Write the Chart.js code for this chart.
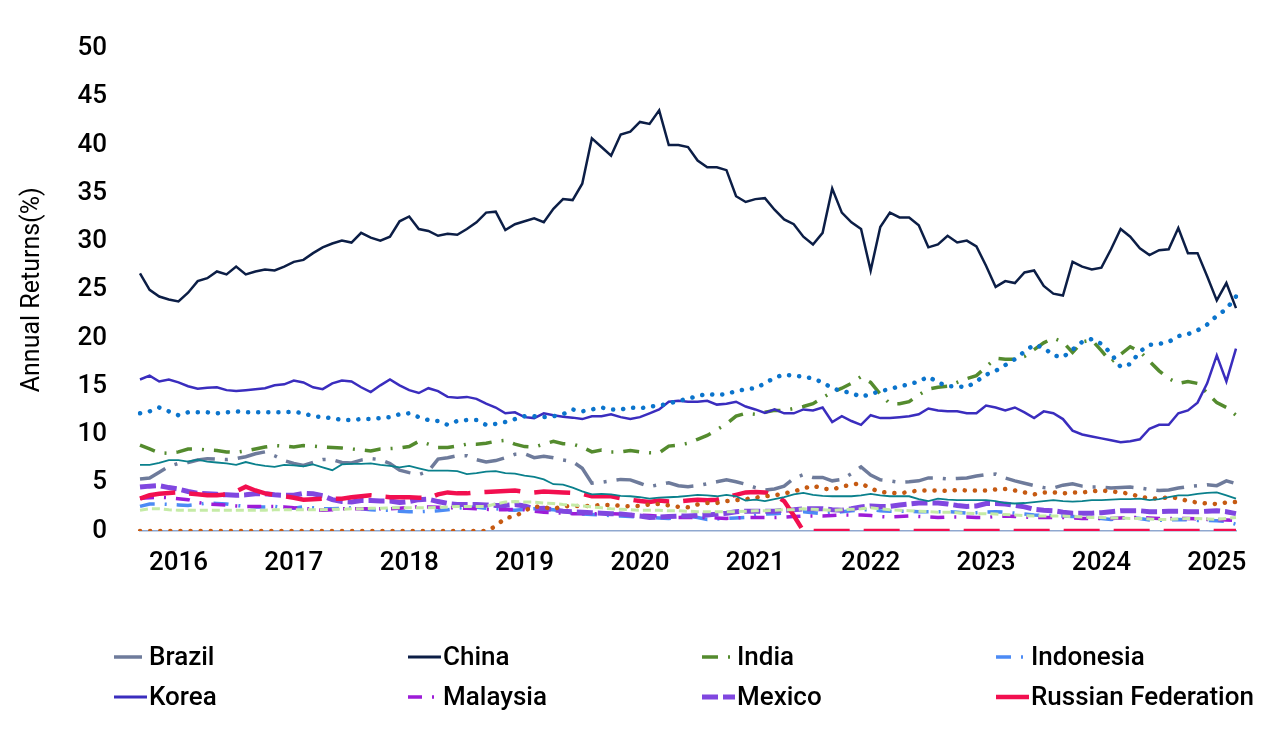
<!DOCTYPE html>
<html>
<head>
<meta charset="utf-8">
<script src="https://cdn.jsdelivr.net/npm/chart.js@4.4.1/dist/chart.umd.min.js"></script>
<style>
  html, body { margin: 0; padding: 0; background: #fff; }
  #chart { display: block; }
</style>
</head>
<body>
<canvas id="chart" width="1280" height="740"></canvas>
<script>
const FONT = "Roboto, 'Liberation Sans', Arial, sans-serif";

// monthly categories, Sep 2015 .. Mar 2025
const startYear = 2015, startMonth = 9, monthCount = 115;
const months = [];
for (let k = 0; k < monthCount; k++) {
  const t = startMonth - 1 + k;
  months.push((startYear + Math.floor(t / 12)) + '-' + String(t % 12 + 1).padStart(2, '0'));
}

const brazil = [
  5.4, 5.5, 6.1, 6.7, 7.0, 7.1, 7.35, 7.5, 7.45, 7.4,
  7.5, 7.7, 8.0, 8.2, 7.8, 7.3, 7.0, 6.8, 7.1, 7.4,
  7.4, 7.1, 7.05, 7.35, 7.5, 7.4, 7.0, 6.3, 6.05, 5.85,
  6.2, 7.45, 7.6, 7.8, 7.8, 7.4, 7.15, 7.3, 7.6, 7.95,
  8.0, 7.6, 7.75, 7.6, 7.35, 7.2, 6.5, 4.95, 5.05, 5.2,
  5.35, 5.3, 4.95, 4.6, 4.8, 5.0, 4.7, 4.6, 4.7, 4.9,
  5.1, 5.3, 5.1, 4.85, 4.5, 4.25, 4.35, 4.65, 5.45, 5.85,
  5.55, 5.55, 5.2, 5.35, 5.95, 6.65, 5.8, 5.3, 5.2, 5.05,
  5.1, 5.2, 5.5, 5.5, 5.4, 5.45, 5.5, 5.7, 5.85, 5.9,
  5.5, 5.2, 4.95, 4.7, 4.5, 4.45, 4.75, 4.9, 4.65, 4.55,
  4.55, 4.45, 4.5, 4.55, 4.45, 4.3, 4.2, 4.25, 4.45, 4.6,
  4.7, 4.8, 4.7, 5.2, 4.9
];
const china = [
  26.7, 25.0, 24.3, 24.0, 23.8, 24.7, 25.9, 26.2, 26.9, 26.6,
  27.4, 26.6, 26.9, 27.1, 27.0, 27.4, 27.9, 28.1, 28.8, 29.4,
  29.8, 30.1, 29.9, 30.9, 30.4, 30.1, 30.5, 32.1, 32.6, 31.3,
  31.1, 30.6, 30.8, 30.7, 31.3, 32.0, 33.0, 33.1, 31.2, 31.8,
  32.1, 32.4, 32.0, 33.4, 34.4, 34.3, 36.0, 40.7, 39.8, 38.9,
  41.1, 41.4, 42.4, 42.2, 43.6, 40.0, 40.0, 39.8, 38.4, 37.7,
  37.7, 37.4, 34.7, 34.1, 34.4, 34.5, 33.3, 32.3, 31.8, 30.5,
  29.7, 30.9, 35.5, 33.0, 32.0, 31.3, 27.0, 31.5, 33.0, 32.5,
  32.5, 31.7, 29.4, 29.7, 30.6, 29.9, 30.1, 29.5, 27.5, 25.3,
  25.9, 25.7, 26.8, 27.0, 25.4, 24.6, 24.4, 27.9, 27.4, 27.1,
  27.3, 29.2, 31.3, 30.5, 29.3, 28.6, 29.1, 29.2, 31.4, 28.8,
  28.8, 26.4, 23.9, 25.7, 23.1
];
const india = [
  8.9, 8.5, 8.1, 8.05, 8.2, 8.5, 8.5, 8.4, 8.35, 8.2,
  8.15, 8.3, 8.5, 8.7, 8.85, 8.8, 8.7, 8.85, 8.8, 8.7,
  8.65, 8.6, 8.5, 8.4, 8.3, 8.5, 8.55, 8.6, 8.75, 9.3,
  9.0, 8.65, 8.65, 8.8, 9.0, 9.0, 9.1, 9.3, 9.4, 9.0,
  8.75, 8.7, 9.0, 9.3, 9.05, 9.0, 8.7, 8.2, 8.4, 8.2,
  8.2, 8.35, 8.2, 8.1, 8.1, 8.8, 8.9, 9.1, 9.5, 9.9,
  10.5, 11.1, 11.9, 12.2, 12.1, 12.3, 12.5, 12.5, 12.7, 12.9,
  13.2, 13.8, 14.4, 14.8, 15.3, 16.0, 15.4, 14.2, 13.2, 13.2,
  13.4, 14.1, 14.7, 14.9, 15.0, 15.4, 15.8, 16.1, 17.0, 17.9,
  17.8, 17.8, 18.1, 18.8, 19.5, 20.0, 19.6, 18.5, 19.6, 19.8,
  18.7, 17.5, 18.3, 19.1, 18.6, 17.6, 16.6, 15.8, 15.3, 15.5,
  15.3, 14.3, 13.3, 12.8, 12.0
];
const indonesia = [
  2.55, 2.8, 2.8, 2.75, 2.7, 2.65, 2.75, 2.9, 2.85, 2.8,
  2.65, 2.55, 2.5, 2.5, 2.55, 2.4, 2.35, 2.5, 2.4, 2.3,
  2.3, 2.35, 2.4, 2.3, 2.2, 2.15, 2.15, 2.05, 2.0, 2.0,
  2.05, 2.1, 2.2, 2.35, 2.5, 2.45, 2.35, 2.3, 2.2, 2.15,
  2.25, 2.3, 2.25, 2.2, 2.05, 1.85, 1.75, 1.7, 1.65, 1.6,
  1.55, 1.5, 1.45, 1.4, 1.35, 1.3, 1.4, 1.55, 1.4, 1.2,
  1.25, 1.3, 1.35, 1.4, 1.6, 1.75, 1.8, 1.85, 1.9, 2.0,
  1.9, 1.8, 1.9, 2.0, 2.1, 2.2, 2.2, 2.1, 2.05, 2.05,
  2.05, 2.0, 2.0, 2.0, 2.0, 1.95, 1.85, 1.9, 1.95, 2.0,
  1.95, 1.85, 1.75, 1.65, 1.6, 1.6, 1.55, 1.5, 1.45, 1.4,
  1.3, 1.2, 1.3, 1.4, 1.3, 1.15, 1.1, 1.15, 1.2, 1.15,
  1.1, 1.1, 1.05, 1.0, 0.7
];
const korea = [
  15.7, 16.1, 15.5, 15.7, 15.4, 15.0, 14.75, 14.85, 14.9, 14.6,
  14.5, 14.6, 14.7, 14.8, 15.1, 15.2, 15.6, 15.4, 14.9, 14.7,
  15.3, 15.6, 15.5, 14.9, 14.4, 15.1, 15.7, 15.1, 14.6, 14.3,
  14.8, 14.5, 13.9, 13.8, 13.9, 13.7, 13.2, 12.8, 12.2, 12.3,
  11.8, 11.7, 12.2, 12.0, 11.85, 11.75, 11.6, 11.9, 11.9, 12.1,
  11.8, 11.6, 11.8, 12.2, 12.6, 13.4, 13.5, 13.4, 13.4, 13.5,
  13.1, 13.2, 13.4, 12.9, 12.6, 12.25, 12.6, 12.2, 12.2, 12.6,
  12.5, 12.8, 11.3, 11.9, 11.4, 11.0, 12.0, 11.7, 11.7, 11.8,
  11.9, 12.1, 12.7, 12.5, 12.4, 12.4, 12.2, 12.2, 13.0, 12.8,
  12.5, 12.8, 12.3, 11.7, 12.4, 12.2, 11.6, 10.4, 10.0, 9.8,
  9.6, 9.4, 9.2, 9.3, 9.5, 10.6, 11.0, 11.0, 12.2, 12.5,
  13.3, 15.3, 18.2, 15.5, 18.9
];
const malaysia = [
  3.4, 3.45, 3.5, 3.45, 3.35, 3.25, 2.95, 2.8, 2.75, 2.7,
  2.6, 2.55, 2.55, 2.55, 2.55, 2.5, 2.4, 2.35, 2.25, 2.15,
  2.2, 2.3, 2.3, 2.3, 2.3, 2.3, 2.3, 2.35, 2.45, 2.5,
  2.5, 2.45, 2.4, 2.4, 2.35, 2.3, 2.25, 2.2, 2.2, 2.25,
  2.2, 2.05, 1.95, 1.9, 1.85, 1.8, 1.8, 1.8, 1.8, 1.8,
  1.75, 1.7, 1.65, 1.6, 1.55, 1.5, 1.4, 1.4, 1.4, 1.4,
  1.35, 1.3, 1.35, 1.4, 1.4, 1.4, 1.4, 1.45, 1.5, 1.55,
  1.55, 1.55, 1.6, 1.65, 1.65, 1.65, 1.6, 1.5, 1.45, 1.5,
  1.55, 1.5, 1.45, 1.4, 1.45, 1.45, 1.45, 1.4, 1.4, 1.5,
  1.55, 1.5, 1.45, 1.4, 1.4, 1.4, 1.4, 1.35, 1.3, 1.3,
  1.3, 1.3, 1.35, 1.4, 1.4, 1.35, 1.3, 1.3, 1.3, 1.3,
  1.25, 1.2, 1.2, 1.15, 1.1
];
const mexico = [
  4.55, 4.65, 4.7, 4.5, 4.35, 4.1, 3.9, 3.85, 3.8, 3.75,
  3.7, 3.75, 3.85, 3.85, 3.75, 3.7, 3.7, 3.9, 3.85, 3.65,
  3.25, 3.05, 3.0, 3.15, 3.15, 3.1, 3.1, 2.95, 3.05, 3.25,
  3.3, 3.05, 2.85, 2.75, 2.75, 2.75, 2.7, 2.65, 2.65, 2.75,
  2.6, 2.3, 2.35, 2.2, 2.05, 2.0, 1.95, 1.9, 1.85, 1.8,
  1.75, 1.65, 1.55, 1.4, 1.45, 1.5, 1.55, 1.55, 1.6, 1.65,
  1.75, 1.85, 2.0, 2.05, 2.05, 2.05, 2.05, 2.15, 2.2, 2.3,
  2.3, 2.3, 2.2, 2.15, 2.3, 2.5, 2.6, 2.55, 2.55, 2.7,
  2.8, 2.9, 2.9, 2.9, 2.8, 2.65, 2.55, 2.6, 2.85, 2.85,
  2.8, 2.65, 2.5, 2.25, 2.15, 2.1, 1.95, 1.85, 1.85, 1.85,
  1.9, 2.0, 2.1, 2.1, 2.1, 2.0, 2.0, 2.05, 2.05, 2.0,
  2.0, 2.05, 2.1, 2.0, 1.8
];
const russia = [
  3.35, 3.7, 3.85, 3.95, 4.0, 3.9, 3.8, 3.7, 3.7, 3.8,
  4.1, 4.6, 4.2, 3.9, 3.75, 3.6, 3.45, 3.25, 3.3, 3.35,
  3.35, 3.35, 3.5, 3.6, 3.7, 3.6, 3.5, 3.5, 3.5, 3.45,
  3.4, 3.8, 4.0, 3.9, 3.9, 4.0, 4.05, 4.1, 4.15, 4.2,
  4.05, 4.0, 4.1, 4.05, 4.0, 3.95, 3.85, 3.6, 3.6, 3.6,
  3.4, 3.25, 3.1, 3.0, 3.15, 3.05, 3.05, 3.15, 3.25, 3.2,
  3.25, 3.5, 3.75, 4.0, 4.05, 4.0, 3.75, 3.1, 1.6, 0,
  0, 0, 0, 0, 0, 0, 0, 0, 0, 0,
  0, 0, 0, 0, 0, 0, 0, 0, 0, 0,
  0, 0, 0, 0, 0, 0, 0, 0, 0, 0,
  0, 0, 0, 0, 0, 0, 0, 0, 0, 0,
  0, 0, 0, 0, 0
];
// series drawn in the plot but not listed in the legend
const saudi = [
  0, 0, 0, 0, 0, 0, 0, 0, 0, 0,
  0, 0, 0, 0, 0, 0, 0, 0, 0, 0,
  0, 0, 0, 0, 0, 0, 0, 0, 0, 0,
  0, 0, 0, 0, 0, 0, 0, 0.5, 1.35, 1.5,
  2.1, 2.55, 2.45, 2.3, 2.55, 2.6, 2.6, 2.6, 2.7, 2.7,
  2.6, 2.55, 2.6, 2.75, 2.8, 2.65, 2.5, 2.45, 2.75, 2.9,
  2.9, 3.1, 3.2, 3.3, 3.45, 3.6, 3.7, 3.9, 4.1, 4.4,
  4.7, 4.4, 4.3, 4.6, 4.8, 4.95, 4.4, 4.05, 3.95, 3.9,
  4.05, 4.2, 4.2, 4.2, 4.15, 4.25, 4.2, 4.2, 4.2, 4.3,
  4.35, 4.2, 4.0, 3.8, 4.0, 4.0, 3.9, 4.0, 4.0, 4.1,
  4.2, 4.1, 4.0, 3.85, 3.55, 3.4, 3.35, 3.5, 3.4, 3.1,
  2.95, 2.85, 2.8, 2.95, 3.0
];
const southAfrica = [
  6.85, 6.85, 7.05, 7.35, 7.35, 7.2, 7.4, 7.2, 7.1, 7.0,
  6.85, 7.15, 6.9, 6.75, 6.65, 6.85, 6.8, 6.7, 6.9, 6.6,
  6.3, 6.9, 6.95, 6.95, 7.0, 6.85, 6.75, 6.6, 6.75, 6.5,
  6.25, 6.25, 6.25, 6.2, 5.9, 6.0, 6.15, 6.2, 6.0, 5.95,
  5.75, 5.6, 5.35, 4.85, 4.8, 4.5, 4.1, 3.8, 3.85, 3.8,
  3.65, 3.6, 3.5, 3.35, 3.45, 3.5, 3.55, 3.65, 3.75, 3.7,
  3.6, 3.75, 3.6, 3.15, 3.25, 3.1, 3.3, 3.5, 3.8, 3.95,
  3.75, 3.65, 3.6, 3.6, 3.6, 3.7, 3.85, 3.7, 3.6, 3.6,
  3.6, 3.3, 3.1, 3.35, 3.25, 3.2, 3.2, 3.2, 3.2, 3.1,
  2.9, 2.85, 2.9, 3.0, 3.1, 3.2, 3.1, 3.05, 3.1, 3.2,
  3.2, 3.25, 3.3, 3.3, 3.35, 3.2, 3.3, 3.5, 3.7, 3.7,
  3.85, 3.95, 4.0, 3.7, 3.35
];
const taiwan = [
  12.2, 12.4, 12.8, 12.4, 12.0, 12.3, 12.3, 12.3, 12.2, 12.3,
  12.4, 12.3, 12.3, 12.3, 12.3, 12.3, 12.35, 12.2, 11.9, 11.8,
  11.7, 11.5, 11.5, 11.6, 11.6, 11.7, 11.8, 12.1, 12.2, 11.8,
  11.5, 11.4, 11.0, 11.4, 11.5, 11.5, 11.0, 11.1, 11.3, 11.6,
  11.9, 11.9, 11.8, 11.9, 12.1, 12.6, 12.4, 12.6, 12.8, 12.6,
  12.6, 12.8, 12.7, 12.9, 13.0, 13.2, 13.5, 13.7, 14.0, 14.2,
  14.1, 14.2, 14.5, 14.7, 14.8, 15.3, 15.9, 16.2, 16.1, 16.0,
  15.8, 15.4, 14.8, 14.5, 14.3, 13.9, 14.2, 14.5, 14.7, 15.0,
  15.2, 15.5, 16.0, 15.4, 15.0, 15.0, 14.9, 15.5, 16.2, 16.6,
  17.2, 17.8, 18.6, 19.3, 19.0, 18.2, 18.0, 18.8, 19.6, 19.9,
  19.4, 18.4, 17.0, 17.3, 18.6, 19.3, 19.4, 19.6, 20.2, 20.4,
  20.8, 21.4, 22.3, 23.0, 24.3
];
const thailand = [
  2.15, 2.3, 2.3, 2.2, 2.15, 2.15, 2.15, 2.15, 2.15, 2.15,
  2.15, 2.15, 2.15, 2.15, 2.2, 2.2, 2.2, 2.2, 2.2, 2.2,
  2.25, 2.25, 2.3, 2.3, 2.35, 2.35, 2.4, 2.4, 2.4, 2.4,
  2.4, 2.45, 2.5, 2.55, 2.55, 2.55, 2.55, 2.8, 3.0, 3.05,
  3.0, 3.0, 2.9, 2.85, 2.75, 2.7, 2.6, 2.5, 2.4, 2.3,
  2.25, 2.2, 2.15, 2.15, 2.15, 2.1, 2.1, 2.05, 2.0, 2.0,
  2.0, 2.0, 2.0, 2.05, 2.1, 2.1, 2.15, 2.2, 2.2, 2.3,
  2.25, 2.2, 2.15, 2.2, 2.25, 2.3, 2.4, 2.3, 2.2, 2.15,
  2.1, 2.05, 2.0, 1.95, 1.95, 1.9, 1.85, 1.8, 1.8, 1.75,
  1.7, 1.65, 1.6, 1.55, 1.55, 1.55, 1.55, 1.5, 1.45, 1.4,
  1.4, 1.35, 1.35, 1.3, 1.3, 1.25, 1.2, 1.2, 1.25, 1.3,
  1.3, 1.25, 1.2, 1.3, 1.4
];

const legendNames = ['Brazil', 'China', 'India', 'Indonesia', 'Korea', 'Malaysia', 'Mexico', 'Russian Federation'];

function series(label, data, color, width, dash, cap) {
  return {
    label: label,
    data: data,
    borderColor: color,
    backgroundColor: color,
    borderWidth: width,
    borderDash: dash || [],
    borderCapStyle: cap || 'butt',
    pointRadius: 0,
    tension: 0,
    fill: false
  };
}

const datasets = [
  series('Brazil', brazil, '#6E7B9B', 3.5, [28, 10, 3, 10]),
  series('China', china, '#0C1E46', 2.5),
  series('India', india, '#548B2E', 3.5, [16, 10, 2, 10]),
  series('Indonesia', indonesia, '#4C8BF5', 3.5, [15, 10, 2, 10]),
  series('Korea', korea, '#3A2DBE', 2.5),
  series('Malaysia', malaysia, '#9D1CD8', 3.5, [14, 10, 2, 10]),
  series('Mexico', mexico, '#8047E0', 5, [16, 5]),
  series('Russian Federation', russia, '#F20F4F', 4.5, [36, 14]),
  series('Saudi Arabia', saudi, '#C65A12', 4.5, [0.1, 10], 'round'),
  series('South Africa', southAfrica, '#0A808C', 1.8),
  series('Taiwan', taiwan, '#0B74CC', 4.5, [0.1, 10], 'round'),
  series('Thailand', thailand, '#C5EBA6', 3, [8, 4])
];
// later series sit on top, as in the source chart
datasets.forEach((d, i) => { d.order = datasets.length - i; });

const legendGrid = {
  id: 'legendGrid',
  afterDraw(chart) {
    const ctx = chart.ctx;
    ctx.save();
    legendNames.forEach((name, k) => {
      const ds = chart.data.datasets.find(d => d.label === name);
      const x = 114 + (k % 4) * 294;
      const y = 657 + Math.floor(k / 4) * 40;
      ctx.beginPath();
      ctx.strokeStyle = ds.borderColor;
      ctx.lineWidth = Math.max(ds.borderWidth, 3);
      ctx.lineCap = 'butt';
      ctx.setLineDash(ds.borderDash);
      ctx.moveTo(x, y);
      ctx.lineTo(x + 33, y);
      ctx.stroke();
      ctx.setLineDash([]);
      ctx.fillStyle = '#000';
      ctx.font = '500 26px ' + FONT;
      ctx.textBaseline = 'middle';
      ctx.textAlign = 'left';
      ctx.fillText(name, x + 35, y + 1);
    });
    ctx.restore();
  }
};

new Chart(document.getElementById('chart'), {
  type: 'line',
  data: { labels: months, datasets: datasets },
  plugins: [legendGrid],
  options: {
    responsive: false,
    animation: false,
    layout: { padding: { top: 42, right: 44, bottom: 0, left: 0 } },
    plugins: {
      legend: { display: false },
      tooltip: { enabled: false }
    },
    scales: {
      x: {
        grid: { display: false, drawTicks: false },
        border: { display: true, color: '#8FA8CF', width: 1.5 },
        ticks: {
          autoSkip: false,
          maxRotation: 0,
          padding: 17,
          color: '#000',
          font: { family: FONT, size: 26, weight: 500 },
          callback(value) {
            const l = this.getLabelForValue(value);
            return l.endsWith('-01') ? l.slice(0, 4) : '';
          }
        },
        afterFit(scale) { scale.height = 209; }
      },
      y: {
        min: 0,
        max: 50,
        grid: { display: false, drawTicks: false },
        border: { display: false },
        ticks: {
          stepSize: 5,
          padding: 33,
          color: '#000',
          font: { family: FONT, size: 26, weight: 500 }
        },
        title: {
          display: true,
          text: 'Annual Returns(%)',
          color: '#000',
          font: { family: FONT, size: 25 },
          padding: { top: 18, bottom: 0 }
        },
        afterFit(scale) { scale.width = 140; }
      }
    }
  }
});
</script>
</body>
</html>
